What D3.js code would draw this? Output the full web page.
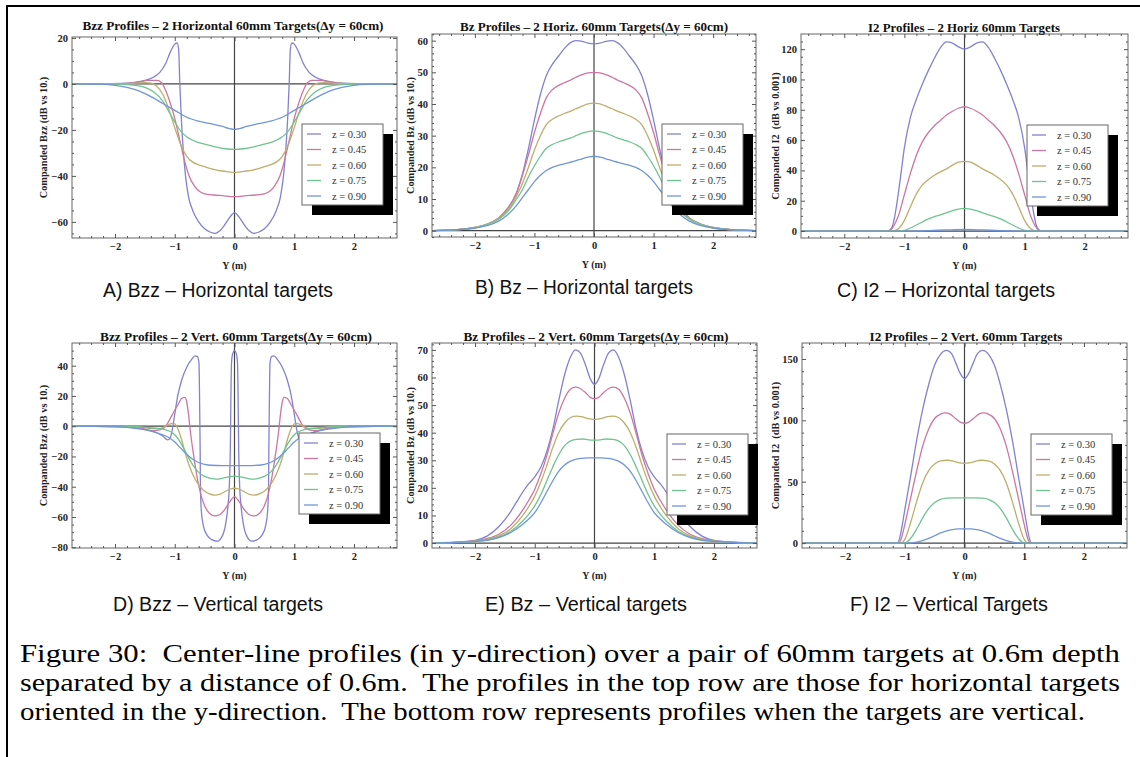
<!DOCTYPE html>
<html><head><meta charset="utf-8">
<script src="https://cdn.jsdelivr.net/npm/d3@7"></script>
<style>body{margin:0;background:#fff}svg{display:block}</style>
</head><body>
<svg id="fig" width="1140" height="757"></svg>
<script>
// ---------------- DATA ----------------
const zLabels = ["z = 0.30", "z = 0.45", "z = 0.60", "z = 0.75", "z = 0.90"];
const xTicks = [-2, -1, 0, 1, 2];

// A) Bzz – horizontal targets
const A_yTicks = [-60, -40, -20, 0, 20];
const A_z030 = [[-2.7,0],[-2.2,0],[-1.9,0.2],[-1.7,0.6],[-1.5,1.5],[-1.35,3],[-1.25,5],[-1.15,9],[-1.08,13.5],[-1.0,17.3],[-0.96,17.8],[-0.935,15],[-0.915,0],[-0.89,-15],[-0.86,-28],[-0.82,-40],[-0.77,-49],[-0.7,-55],[-0.6,-60],[-0.5,-63],[-0.4,-64.5],[-0.32,-65],[-0.25,-64],[-0.17,-61.5],[-0.08,-58],[0,-56],[0.08,-58],[0.17,-61.5],[0.25,-64],[0.32,-65],[0.4,-64.5],[0.5,-63],[0.6,-60],[0.7,-55],[0.77,-49],[0.82,-40],[0.86,-28],[0.89,-15],[0.915,0],[0.935,15],[0.96,17.8],[1.0,17.3],[1.08,13.5],[1.15,9],[1.25,5],[1.35,3],[1.5,1.5],[1.7,0.6],[1.9,0.2],[2.2,0],[2.7,0]];
const A_z045 = [[-2.7,0],[-2.0,0],[-1.8,0.2],[-1.6,0.8],[-1.45,1.5],[-1.3,1.5],[-1.22,0.5],[-1.15,-3],[-1.08,-8],[-1.0,-15],[-0.92,-24],[-0.84,-33],[-0.76,-40],[-0.68,-44],[-0.6,-46.5],[-0.5,-47.8],[-0.35,-48.3],[-0.2,-48.6],[0,-49],[0.2,-48.6],[0.35,-48.3],[0.5,-47.8],[0.6,-46.5],[0.68,-44],[0.76,-40],[0.84,-33],[0.92,-24],[1.0,-15],[1.08,-8],[1.15,-3],[1.22,0.5],[1.3,1.5],[1.45,1.5],[1.6,0.8],[1.8,0.2],[2.0,0],[2.7,0]];
const A_z060 = [[-2.7,0],[-2.0,0],[-1.7,0.2],[-1.5,0.5],[-1.4,0.3],[-1.3,-1],[-1.2,-4.5],[-1.1,-11],[-1.0,-19],[-0.9,-26.5],[-0.8,-31.5],[-0.7,-34],[-0.6,-35.2],[-0.5,-36],[-0.4,-36.8],[-0.3,-37.5],[-0.15,-38],[0,-38.5],[0.15,-38],[0.3,-37.5],[0.4,-36.8],[0.5,-36],[0.6,-35.2],[0.7,-34],[0.8,-31.5],[0.9,-26.5],[1.0,-19],[1.1,-11],[1.2,-4.5],[1.3,-1],[1.4,0.3],[1.5,0.5],[1.7,0.2],[2.0,0],[2.7,0]];
const A_z075 = [[-2.7,0],[-2.0,-0.1],[-1.7,-0.5],[-1.5,-1.5],[-1.35,-3.5],[-1.2,-7.5],[-1.1,-12],[-1.0,-16.5],[-0.9,-20.5],[-0.8,-23],[-0.7,-24.5],[-0.6,-25.5],[-0.5,-26.2],[-0.4,-26.8],[-0.3,-27.5],[-0.15,-28.2],[0,-28.5],[0.15,-28.2],[0.3,-27.5],[0.4,-26.8],[0.5,-26.2],[0.6,-25.5],[0.7,-24.5],[0.8,-23],[0.9,-20.5],[1.0,-16.5],[1.1,-12],[1.2,-7.5],[1.35,-3.5],[1.5,-1.5],[1.7,-0.5],[2.0,-0.1],[2.7,0]];
const A_z090 = [[-2.7,0],[-2.2,-0.2],[-2.0,-0.6],[-1.8,-1.5],[-1.6,-3],[-1.4,-5.5],[-1.2,-8.5],[-1.0,-11.5],[-0.8,-14.5],[-0.6,-16.2],[-0.4,-17.3],[-0.2,-18.5],[-0.1,-19.3],[0,-19.8],[0.1,-19.3],[0.2,-18.5],[0.4,-17.3],[0.6,-16.2],[0.8,-14.5],[1.0,-11.5],[1.2,-8.5],[1.4,-5.5],[1.6,-3],[1.8,-1.5],[2.0,-0.6],[2.2,-0.2],[2.7,0]];

// B) Bz – horizontal targets
const B_yTicks = [0, 10, 20, 30, 40, 50, 60];
const B_z030 = [[-2.7,0],[-2.3,0.3],[-2.0,1],[-1.8,2],[-1.6,4],[-1.45,7],[-1.3,12],[-1.2,18],[-1.1,26],[-1.0,35],[-0.9,43],[-0.8,49],[-0.7,52.5],[-0.6,55],[-0.5,57.5],[-0.4,59.3],[-0.3,60],[-0.2,59.8],[-0.1,59.2],[0,59],[0.1,59.2],[0.2,59.8],[0.3,60],[0.4,59.3],[0.5,57.5],[0.6,55],[0.7,52.5],[0.8,49],[0.9,43],[1.0,35],[1.1,26],[1.2,18],[1.3,12],[1.45,7],[1.6,4],[1.8,2],[2.0,1],[2.3,0.3],[2.7,0]];
const B_z045 = [[-2.7,0],[-2.3,0.3],[-2.0,1],[-1.8,2],[-1.6,4],[-1.45,7],[-1.3,12],[-1.2,17.5],[-1.1,24],[-1.0,31],[-0.9,37],[-0.8,42],[-0.7,44.5],[-0.6,45.8],[-0.5,46.7],[-0.4,47.5],[-0.3,48.5],[-0.2,49.3],[-0.1,49.8],[0,50],[0.1,49.8],[0.2,49.3],[0.3,48.5],[0.4,47.5],[0.5,46.7],[0.6,45.8],[0.7,44.5],[0.8,42],[0.9,37],[1.0,31],[1.1,24],[1.2,17.5],[1.3,12],[1.45,7],[1.6,4],[1.8,2],[2.0,1],[2.3,0.3],[2.7,0]];
const B_z060 = [[-2.7,0],[-2.3,0.3],[-2.0,1],[-1.8,2],[-1.6,3.8],[-1.45,6.5],[-1.3,11],[-1.2,15],[-1.1,20],[-1.0,25.5],[-0.9,30],[-0.8,33.5],[-0.7,35.2],[-0.6,36.2],[-0.5,37],[-0.4,37.7],[-0.3,38.5],[-0.2,39.3],[-0.1,40],[0,40.3],[0.1,40],[0.2,39.3],[0.3,38.5],[0.4,37.7],[0.5,37],[0.6,36.2],[0.7,35.2],[0.8,33.5],[0.9,30],[1.0,25.5],[1.1,20],[1.2,15],[1.3,11],[1.45,6.5],[1.6,3.8],[1.8,2],[2.0,1],[2.3,0.3],[2.7,0]];
const B_z075 = [[-2.7,0],[-2.3,0.3],[-2.0,0.9],[-1.8,1.9],[-1.6,3.6],[-1.45,6],[-1.3,10],[-1.2,13],[-1.1,17],[-1.0,20.5],[-0.9,23.5],[-0.8,26],[-0.7,27.2],[-0.6,28],[-0.5,28.6],[-0.4,29.2],[-0.3,30],[-0.2,30.8],[-0.1,31.3],[0,31.5],[0.1,31.3],[0.2,30.8],[0.3,30],[0.4,29.2],[0.5,28.6],[0.6,28],[0.7,27.2],[0.8,26],[0.9,23.5],[1.0,20.5],[1.1,17],[1.2,13],[1.3,10],[1.45,6],[1.6,3.6],[1.8,1.9],[2.0,0.9],[2.3,0.3],[2.7,0]];
const B_z090 = [[-2.7,0],[-2.3,0.3],[-2.0,0.8],[-1.8,1.6],[-1.6,3],[-1.45,5],[-1.3,8],[-1.2,10.5],[-1.1,13],[-1.0,15.5],[-0.9,17.5],[-0.8,19],[-0.7,20],[-0.6,20.6],[-0.5,21.1],[-0.4,21.6],[-0.3,22.1],[-0.2,22.7],[-0.1,23.2],[0,23.5],[0.1,23.2],[0.2,22.7],[0.3,22.1],[0.4,21.6],[0.5,21.1],[0.6,20.6],[0.7,20],[0.8,19],[0.9,17.5],[1.0,15.5],[1.1,13],[1.2,10.5],[1.3,8],[1.45,5],[1.6,3],[1.8,1.6],[2.0,0.8],[2.3,0.3],[2.7,0]];

// C) I2 – horizontal targets
const C_yTicks = [0, 20, 40, 60, 80, 100, 120];
const C_z030 = [[-2.7,0],[-1.3,0],[-1.25,0.5],[-1.2,3],[-1.15,12],[-1.1,25],[-1.05,40],[-1.0,55],[-0.9,75],[-0.8,87],[-0.7,97],[-0.6,106],[-0.5,114],[-0.4,121],[-0.3,124.8],[-0.2,124],[-0.1,121.5],[0,120],[0.1,121.5],[0.2,124],[0.3,124.8],[0.4,121],[0.5,114],[0.6,106],[0.7,97],[0.8,87],[0.9,75],[1.0,55],[1.05,40],[1.1,25],[1.15,12],[1.2,3],[1.25,0.5],[1.3,0],[2.7,0]];
const C_z045 = [[-2.7,0],[-1.25,0],[-1.2,2],[-1.1,10],[-1.0,24],[-0.9,38],[-0.8,50],[-0.7,59],[-0.6,65],[-0.5,69.5],[-0.4,73],[-0.3,76.5],[-0.2,79],[-0.1,81],[0,82],[0.1,81],[0.2,79],[0.3,76.5],[0.4,73],[0.5,69.5],[0.6,65],[0.7,59],[0.8,50],[0.9,38],[1.0,24],[1.1,10],[1.2,2],[1.25,0],[2.7,0]];
const C_z060 = [[-2.7,0],[-1.2,0],[-1.1,1.5],[-1.0,7],[-0.9,16],[-0.8,24.5],[-0.7,30.5],[-0.6,34],[-0.5,36.8],[-0.4,39],[-0.3,41],[-0.2,43.5],[-0.1,45.5],[0,46],[0.1,45.5],[0.2,43.5],[0.3,41],[0.4,39],[0.5,36.8],[0.6,34],[0.7,30.5],[0.8,24.5],[0.9,16],[1.0,7],[1.1,1.5],[1.2,0],[2.7,0]];
const C_z075 = [[-2.7,0],[-1.1,0],[-1.0,0.5],[-0.9,2],[-0.8,4],[-0.7,6],[-0.6,8],[-0.5,9.5],[-0.4,10.7],[-0.3,12],[-0.2,13.5],[-0.1,14.5],[0,15],[0.1,14.5],[0.2,13.5],[0.3,12],[0.4,10.7],[0.5,9.5],[0.6,8],[0.7,6],[0.8,4],[0.9,2],[1.0,0.5],[1.1,0],[2.7,0]];
const C_z090 = [[-2.7,0],[-0.9,0],[-0.6,0.3],[-0.3,0.7],[0,1],[0.3,0.7],[0.6,0.3],[0.9,0],[2.7,0]];

// D) Bzz – vertical targets
const D_yTicks = [-80, -60, -40, -20, 0, 20, 40];
const D_z030 = [[-2.7,0],[-2.0,-0.2],[-1.7,-0.8],[-1.5,-2],[-1.35,-3.5],[-1.2,-6.5],[-1.12,-9],[-1.08,-8],[-1.04,-2],[-1.0,8],[-0.95,20],[-0.88,31],[-0.8,39],[-0.72,44],[-0.66,46.5],[-0.62,46],[-0.595,42],[-0.585,20],[-0.575,-15],[-0.57,-40],[-0.555,-56],[-0.52,-66],[-0.46,-72],[-0.38,-75],[-0.29,-76],[-0.21,-73],[-0.15,-65],[-0.11,-53],[-0.085,-38],[-0.07,-15],[-0.06,20],[-0.05,42],[-0.03,48],[0,50],[0.03,48],[0.05,42],[0.06,20],[0.07,-15],[0.085,-38],[0.11,-53],[0.15,-65],[0.21,-73],[0.29,-76],[0.38,-75],[0.46,-72],[0.52,-66],[0.555,-56],[0.57,-40],[0.575,-15],[0.585,20],[0.595,42],[0.62,46],[0.66,46.5],[0.72,44],[0.8,39],[0.88,31],[0.95,20],[1.0,8],[1.04,-2],[1.08,-8],[1.12,-9],[1.2,-6.5],[1.35,-3.5],[1.5,-2],[1.7,-0.8],[2.0,-0.2],[2.7,0]];
const D_z045 = [[-2.7,0],[-1.9,-0.2],[-1.6,-1],[-1.45,-2.5],[-1.35,-3],[-1.25,-2.5],[-1.15,0],[-1.05,7],[-0.95,14],[-0.88,18.5],[-0.83,19],[-0.8,16],[-0.77,8],[-0.74,-3],[-0.7,-15],[-0.65,-28],[-0.6,-39],[-0.55,-47],[-0.5,-52.5],[-0.42,-57.5],[-0.33,-59.3],[-0.25,-58.5],[-0.17,-55.5],[-0.08,-50],[0,-46.5],[0.08,-50],[0.17,-55.5],[0.25,-58.5],[0.33,-59.3],[0.42,-57.5],[0.5,-52.5],[0.55,-47],[0.6,-39],[0.65,-28],[0.7,-15],[0.74,-3],[0.77,8],[0.8,16],[0.83,19],[0.88,18.5],[0.95,14],[1.05,7],[1.15,0],[1.25,-2.5],[1.35,-3],[1.45,-2.5],[1.6,-1],[1.9,-0.2],[2.7,0]];
const D_z060 = [[-2.7,0],[-1.8,-0.2],[-1.6,-0.5],[-1.4,-1.5],[-1.25,-1.5],[-1.15,0],[-1.05,1.8],[-1.0,1.5],[-0.95,-1.5],[-0.9,-7],[-0.85,-14],[-0.8,-21],[-0.72,-30],[-0.63,-37],[-0.53,-42],[-0.43,-44.5],[-0.33,-45.5],[-0.25,-45],[-0.15,-43],[-0.07,-41.5],[0,-41],[0.07,-41.5],[0.15,-43],[0.25,-45],[0.33,-45.5],[0.43,-44.5],[0.53,-42],[0.63,-37],[0.72,-30],[0.8,-21],[0.85,-14],[0.9,-7],[0.95,-1.5],[1.0,1.5],[1.05,1.8],[1.15,0],[1.25,-1.5],[1.4,-1.5],[1.6,-0.5],[1.8,-0.2],[2.7,0]];
const D_z075 = [[-2.7,0],[-1.8,-0.3],[-1.5,-0.8],[-1.3,-1.5],[-1.15,-2.5],[-1.05,-4],[-0.98,-6.5],[-0.9,-11],[-0.8,-18.5],[-0.7,-25.5],[-0.6,-30.5],[-0.5,-33.2],[-0.4,-34.5],[-0.3,-35],[-0.2,-34.3],[-0.1,-33.5],[0,-33],[0.1,-33.5],[0.2,-34.3],[0.3,-35],[0.4,-34.5],[0.5,-33.2],[0.6,-30.5],[0.7,-25.5],[0.8,-18.5],[0.9,-11],[0.98,-6.5],[1.05,-4],[1.15,-2.5],[1.3,-1.5],[1.5,-0.8],[1.8,-0.3],[2.7,0]];
const D_z090 = [[-2.7,0],[-2.0,-0.3],[-1.8,-0.8],[-1.6,-1.8],[-1.4,-3.2],[-1.25,-5],[-1.1,-7.5],[-1.0,-10.5],[-0.9,-14.5],[-0.8,-18.5],[-0.7,-21.8],[-0.6,-24],[-0.5,-25.2],[-0.4,-25.8],[-0.2,-26],[0,-26],[0.2,-26],[0.4,-25.8],[0.5,-25.2],[0.6,-24],[0.7,-21.8],[0.8,-18.5],[0.9,-14.5],[1.0,-10.5],[1.1,-7.5],[1.25,-5],[1.4,-3.2],[1.6,-1.8],[1.8,-0.8],[2.0,-0.3],[2.7,0]];

// E) Bz – vertical targets
const E_yTicks = [0, 10, 20, 30, 40, 50, 60, 70];
const E_z030 = [[-2.7,0],[-2.2,0.5],[-2.0,1],[-1.8,2.5],[-1.6,6],[-1.5,8.5],[-1.4,11.5],[-1.3,15],[-1.2,18.5],[-1.1,21.5],[-1.0,24],[-0.9,27.5],[-0.8,33],[-0.7,41],[-0.6,51.5],[-0.5,61],[-0.4,67.5],[-0.32,70],[-0.24,69],[-0.15,64.5],[-0.07,59.5],[0,57.5],[0.07,59.5],[0.15,64.5],[0.24,69],[0.32,70],[0.4,67.5],[0.5,61],[0.6,51.5],[0.7,41],[0.8,33],[0.9,27.5],[1.0,24],[1.1,21.5],[1.2,18.5],[1.3,15],[1.4,11.5],[1.5,8.5],[1.6,6],[1.8,2.5],[2.0,1],[2.2,0.5],[2.7,0]];
const E_z045 = [[-2.7,0],[-2.2,0.4],[-2.0,0.8],[-1.8,1.6],[-1.6,3.2],[-1.4,6.5],[-1.2,12],[-1.1,15.5],[-1.0,19.5],[-0.9,25],[-0.8,31.5],[-0.7,39.5],[-0.6,47],[-0.5,52.5],[-0.4,55.8],[-0.32,56.5],[-0.24,56],[-0.15,54.5],[-0.07,52.8],[0,52.3],[0.07,52.8],[0.15,54.5],[0.24,56],[0.32,56.5],[0.4,55.8],[0.5,52.5],[0.6,47],[0.7,39.5],[0.8,31.5],[0.9,25],[1.0,19.5],[1.1,15.5],[1.2,12],[1.4,6.5],[1.6,3.2],[1.8,1.6],[2.0,0.8],[2.2,0.4],[2.7,0]];
const E_z060 = [[-2.7,0],[-2.2,0.3],[-2.0,0.7],[-1.8,1.3],[-1.6,2.6],[-1.4,5.2],[-1.2,10],[-1.1,13.2],[-1.0,17],[-0.9,22],[-0.8,28],[-0.7,34.5],[-0.6,40],[-0.5,43.5],[-0.4,45.5],[-0.3,46],[-0.22,45.8],[-0.12,45.2],[0,44.7],[0.12,45.2],[0.22,45.8],[0.3,46],[0.4,45.5],[0.5,43.5],[0.6,40],[0.7,34.5],[0.8,28],[0.9,22],[1.0,17],[1.1,13.2],[1.2,10],[1.4,5.2],[1.6,2.6],[1.8,1.3],[2.0,0.7],[2.2,0.3],[2.7,0]];
const E_z075 = [[-2.7,0],[-2.2,0.3],[-2.0,0.6],[-1.8,1.1],[-1.6,2.2],[-1.4,4.3],[-1.2,8],[-1.1,10.5],[-1.0,13.5],[-0.9,17.5],[-0.8,22.5],[-0.7,27.5],[-0.6,32],[-0.5,35.3],[-0.4,37],[-0.3,37.6],[-0.2,37.7],[-0.1,37.4],[0,37.3],[0.1,37.4],[0.2,37.7],[0.3,37.6],[0.4,37],[0.5,35.3],[0.6,32],[0.7,27.5],[0.8,22.5],[0.9,17.5],[1.0,13.5],[1.1,10.5],[1.2,8],[1.4,4.3],[1.6,2.2],[1.8,1.1],[2.0,0.6],[2.2,0.3],[2.7,0]];
const E_z090 = [[-2.7,0],[-2.2,0.3],[-2.0,0.6],[-1.8,1],[-1.6,2],[-1.4,3.8],[-1.2,6.8],[-1.1,8.7],[-1.0,11],[-0.9,14.5],[-0.8,18.5],[-0.7,22.5],[-0.6,26],[-0.5,28.3],[-0.4,29.7],[-0.3,30.4],[-0.2,30.7],[-0.1,30.9],[0,30.9],[0.1,30.9],[0.2,30.7],[0.3,30.4],[0.4,29.7],[0.5,28.3],[0.6,26],[0.7,22.5],[0.8,18.5],[0.9,14.5],[1.0,11],[1.1,8.7],[1.2,6.8],[1.4,3.8],[1.6,2],[1.8,1],[2.0,0.6],[2.2,0.3],[2.7,0]];

// F) I2 – vertical targets
const F_yTicks = [0, 50, 100, 150];
const F_z030 = [[-2.7,0],[-1.12,0],[-1.08,5],[-1.03,18],[-1.0,27],[-0.9,55],[-0.8,84],[-0.7,109],[-0.6,129],[-0.5,145],[-0.4,154],[-0.3,157],[-0.22,154.5],[-0.14,146],[-0.07,138],[0,134],[0.07,138],[0.14,146],[0.22,154.5],[0.3,157],[0.4,154],[0.5,145],[0.6,129],[0.7,109],[0.8,84],[0.9,55],[1.0,27],[1.03,18],[1.08,5],[1.12,0],[2.7,0]];
const F_z045 = [[-2.7,0],[-1.1,0],[-1.05,5],[-1.0,15],[-0.9,37],[-0.8,59],[-0.7,79],[-0.6,93],[-0.5,101.5],[-0.4,105],[-0.32,106],[-0.24,105],[-0.15,101.5],[-0.07,98.5],[0,97.5],[0.07,98.5],[0.15,101.5],[0.24,105],[0.32,106],[0.4,105],[0.5,101.5],[0.6,93],[0.7,79],[0.8,59],[0.9,37],[1.0,15],[1.05,5],[1.1,0],[2.7,0]];
const F_z060 = [[-2.7,0],[-1.06,0],[-1.0,3],[-0.9,17],[-0.8,34],[-0.7,49],[-0.6,59],[-0.5,64.5],[-0.4,67],[-0.28,67.5],[-0.18,66.6],[-0.08,65.3],[0,65],[0.08,65.3],[0.18,66.6],[0.28,67.5],[0.4,67],[0.5,64.5],[0.6,59],[0.7,49],[0.8,34],[0.9,17],[1.0,3],[1.06,0],[2.7,0]];
const F_z075 = [[-2.7,0],[-1.0,0],[-0.9,4],[-0.8,11.5],[-0.7,20.5],[-0.6,28],[-0.5,33],[-0.4,35.7],[-0.3,36.6],[-0.15,36.8],[0,36.8],[0.15,36.8],[0.3,36.6],[0.4,35.7],[0.5,33],[0.6,28],[0.7,20.5],[0.8,11.5],[0.9,4],[1.0,0],[2.7,0]];
const F_z090 = [[-2.7,0],[-0.95,0],[-0.8,0.8],[-0.7,2],[-0.6,3.8],[-0.5,6],[-0.4,8.3],[-0.3,10],[-0.2,11],[-0.1,11.5],[0,11.6],[0.1,11.5],[0.2,11],[0.3,10],[0.4,8.3],[0.5,6],[0.6,3.8],[0.7,2],[0.8,0.8],[0.95,0],[2.7,0]];

const panelTitles = [
  "Bzz Profiles \u2013 2 Horizontal 60mm Targets(\u0394y = 60cm)",
  "Bz Profiles \u2013 2 Horiz. 60mm Targets(\u0394y = 60cm)",
  "I2 Profiles \u2013 2 Horiz 60mm Targets",
  "Bzz Profiles \u2013 2 Vert. 60mm Targets(\u0394y = 60cm)",
  "Bz Profiles \u2013 2 Vert. 60mm Targets(\u0394y = 60cm)",
  "I2 Profiles \u2013 2 Vert. 60mm Targets"
];
const yLabels = [
  "Companded Bzz (dB vs 10.)", "Companded Bz (dB vs 10.)", "Companded I2  (dB vs 0.001)",
  "Companded Bzz (dB vs 10.)", "Companded Bz (dB vs 10.)", "Companded I2  (dB vs 0.001)"
];
const captions = [
  "A) Bzz \u2013 Horizontal targets", "B) Bz \u2013 Horizontal targets", "C) I2 \u2013 Horizontal targets",
  "D) Bzz \u2013 Vertical targets", "E) Bz \u2013 Vertical targets", "F) I2 \u2013 Vertical Targets"
];
const figureText = [
  "Figure 30:  Center-line profiles (in y-direction) over a pair of 60mm targets at 0.6m depth",
  "separated by a distance of 0.6m.  The profiles in the top row are those for horizontal targets",
  "oriented in the y-direction.  The bottom row represents profiles when the targets are vertical."
];

// ---------------- LAYOUT / STYLE ----------------
const colors = ["#8282d0", "#cc76a0", "#bdae6c", "#6fc390", "#7096d8"];
const serif = "'Liberation Serif','Times New Roman',serif";
const narrow = "'Liberation Sans Narrow','Arial Narrow','Liberation Sans',sans-serif";

const panels = [
  {series:[A_z030,A_z045,A_z060,A_z075,A_z090], yTicks:A_yTicks, yMinor:5, yDom:[-67,20.4], box:[72,397,37,238], title:[233,30,301], leg:[302,124], cap:[218,297,230], ylx:43},
  {series:[B_z030,B_z045,B_z060,B_z075,B_z090], yTicks:B_yTicks, yMinor:2, yDom:[-2,62.1], box:[432,756,34,237], title:[594,31,268], leg:[662,124], cap:[584,294,218], ylx:410},
  {series:[C_z030,C_z045,C_z060,C_z075,C_z090], yTicks:C_yTicks, yMinor:5, yDom:[-4.6,130], box:[801,1128,34,238], title:[964,32,192], leg:[1027,125], cap:[946,297,218], ylx:775},
  {series:[D_z030,D_z045,D_z060,D_z075,D_z090], yTicks:D_yTicks, yMinor:5, yDom:[-80.5,55], box:[72,397,343,548], title:[236,341,272], leg:[299,433], cap:[218,611,210], ylx:43},
  {series:[E_z030,E_z045,E_z060,E_z075,E_z090], yTicks:E_yTicks, yMinor:2, yDom:[-1.8,72.5], box:[432,757,343,548], title:[596,341,265], leg:[667,434], cap:[586,611,202], ylx:410},
  {series:[F_z030,F_z045,F_z060,F_z075,F_z090], yTicks:F_yTicks, yMinor:10, yDom:[-4,163], box:[802,1127,343,548], title:[966,341,193], leg:[1031,434], cap:[949,611,198], ylx:775}
];

const svg = d3.select("#fig");
svg.append("rect").attr("width",1140).attr("height",757).attr("fill","#fff");
svg.append("path").attr("d","M7,757V6H1140").attr("fill","none").attr("stroke","#000").attr("stroke-width",2);

const fmt = d => d < 0 ? "\u2212" + Math.abs(d) : String(d);

panels.forEach((p, i) => {
  const [x0, x1, y0, y1] = p.box;
  const x = d3.scaleLinear().domain([-2.72, 2.72]).range([x0, x1]);
  const y = d3.scaleLinear().domain(p.yDom).range([y1, y0]);
  const g = svg.append("g");

  const cid = "clip" + i;
  svg.append("clipPath").attr("id", cid).append("rect")
    .attr("x", x0).attr("y", y0).attr("width", x1 - x0).attr("height", y1 - y0);

  const axG = g.append("g").attr("clip-path", `url(#${cid})`);
  axG.append("line").attr("x1", x(0)).attr("x2", x(0)).attr("y1", y0).attr("y2", y1)
    .attr("stroke", "#444").attr("stroke-width", 1.2);
  axG.append("line").attr("x1", x0).attr("x2", x1).attr("y1", y(0)).attr("y2", y(0))
    .attr("stroke", "#444").attr("stroke-width", 1.2);

  const line = d3.line().x(d => x(d[0])).y(d => y(d[1])).curve(d3.curveMonotoneX);
  const cg = g.append("g").attr("clip-path", `url(#${cid})`);
  p.series.forEach((s, k) => {
    cg.append("path").attr("d", line(s)).attr("fill", "none")
      .attr("stroke", colors[k]).attr("stroke-width", 1.3);
  });

  g.append("rect").attr("x", x0).attr("y", y0).attr("width", x1 - x0).attr("height", y1 - y0)
    .attr("fill", "none").attr("stroke", "#666").attr("stroke-width", 1);

  const xMinor = d3.range(-2.6, 2.61, 0.2).map(v => Math.round(v * 10) / 10).filter(v => Math.abs(v - Math.round(v)) > 1e-6);
  const [ya, yb] = p.yDom;
  const yMinor = d3.range(Math.ceil(ya / p.yMinor) * p.yMinor, yb, p.yMinor).filter(v => !p.yTicks.includes(v));

  function styleAxis(sel) {
    sel.select(".domain").remove();
    sel.selectAll("line").attr("stroke", "#555");
    sel.selectAll("text").attr("font-family", serif).attr("font-weight", "bold")
      .attr("font-size", 10.5).attr("fill", "#222");
  }
  g.append("g").attr("transform", `translate(0,${y1})`)
    .call(d3.axisBottom(x).tickValues(xTicks).tickSize(-4).tickPadding(5).tickFormat(fmt)).call(styleAxis);
  g.append("g").attr("transform", `translate(0,${y1})`)
    .call(d3.axisBottom(x).tickValues(xMinor).tickSize(-2).tickFormat("")).call(styleAxis);
  g.append("g").attr("transform", `translate(0,${y0})`)
    .call(d3.axisTop(x).tickValues(xTicks).tickSize(-4).tickFormat("")).call(styleAxis);
  g.append("g").attr("transform", `translate(0,${y0})`)
    .call(d3.axisTop(x).tickValues(xMinor).tickSize(-2).tickFormat("")).call(styleAxis);
  g.append("g").attr("transform", `translate(${x0},0)`)
    .call(d3.axisLeft(y).tickValues(p.yTicks).tickSize(-4).tickPadding(4).tickFormat(fmt)).call(styleAxis);
  g.append("g").attr("transform", `translate(${x0},0)`)
    .call(d3.axisLeft(y).tickValues(yMinor).tickSize(-2).tickFormat("")).call(styleAxis);
  g.append("g").attr("transform", `translate(${x1},0)`)
    .call(d3.axisRight(y).tickValues(p.yTicks).tickSize(-4).tickFormat("")).call(styleAxis);
  g.append("g").attr("transform", `translate(${x1},0)`)
    .call(d3.axisRight(y).tickValues(yMinor).tickSize(-2).tickFormat("")).call(styleAxis);

  g.append("text").attr("x", p.title[0]).attr("y", p.title[1]).attr("text-anchor", "middle")
    .attr("font-family", serif).attr("font-weight", "bold").attr("font-size", 12.8).attr("fill", "#111")
    .attr("textLength", p.title[2]).attr("lengthAdjust", "spacingAndGlyphs")
    .text(panelTitles[i]);
  g.append("text").attr("x", x(0)).attr("y", y1 + 31).attr("text-anchor", "middle")
    .attr("font-family", serif).attr("font-weight", "bold").attr("font-size", 10).attr("fill", "#222")
    .text("Y (m)");
  g.append("text").attr("transform", `translate(${p.ylx},${(y0 + y1) / 2}) rotate(-90)`)
    .attr("text-anchor", "middle").attr("dy", "0.35em").style("white-space", "pre")
    .attr("font-family", serif).attr("font-weight", "bold").attr("font-size", 10.3).attr("fill", "#222")
    .text(yLabels[i]);

  const [lx, ly] = p.leg;
  g.append("rect").attr("x", lx + 10).attr("y", ly + 10).attr("width", 81).attr("height", 81).attr("fill", "#000");
  g.append("rect").attr("x", lx).attr("y", ly).attr("width", 81).attr("height", 81)
    .attr("fill", "#fff").attr("stroke", "#666").attr("stroke-width", 1);
  zLabels.forEach((lab, k) => {
    const ry = ly + 10 + k * 15.5;
    g.append("line").attr("x1", lx + 5).attr("x2", lx + 19).attr("y1", ry).attr("y2", ry)
      .attr("stroke", colors[k]).attr("stroke-width", 1.3);
    g.append("text").attr("x", lx + 30).attr("y", ry + 3.5)
      .attr("font-family", serif).attr("font-size", 10.5).attr("fill", "#333").text(lab);
  });

  g.append("text").attr("x", p.cap[0]).attr("y", p.cap[1]).attr("text-anchor", "middle")
    .attr("font-family", narrow).attr("font-size", 19.5).attr("fill", "#111")
    .attr("textLength", p.cap[2]).attr("lengthAdjust", "spacingAndGlyphs")
    .text(captions[i]);
});

// figure caption (glyphs stretched horizontally like the original scan)
const capYs = [662, 691, 720];
const capLens = [1100, 1100, 1065];
figureText.forEach((t, k) => {
  svg.append("text").attr("x", 20).attr("y", capYs[k])
    .attr("font-family", serif).attr("font-size", 24.5).attr("fill", "#000")
    .style("white-space", "pre")
    .attr("textLength", capLens[k]).attr("lengthAdjust", "spacingAndGlyphs")
    .text(t);
});
</script>
</body></html>
